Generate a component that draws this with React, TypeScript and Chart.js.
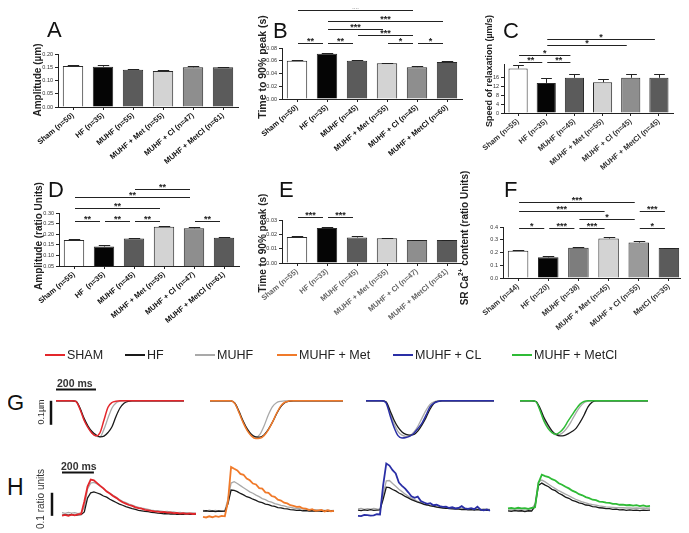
import React, { useEffect, useRef } from 'react';
import { Chart, registerables } from 'chart.js';

Chart.register(...registerables);

const FONT = '"Liberation Sans", Arial, Helvetica, sans-serif';

type Bracket = [number, number, number, string];

// ---------------- bar panel data ----------------
const barColors = ['#ffffff', '#050505', '#5b5b5b', '#d3d3d3', '#8e8e8e', '#5b5b5b'];
const barColorsF = ['#ffffff', '#050505', '#7d7d7d', '#d3d3d3', '#9a9a9a', '#5b5b5b'];

const labelsA = ['Sham (n=50)', 'HF (n=35)', 'MUHF (n=55)', 'MUHF + Met (n=55)', 'MUHF + Cl (n=47)', 'MUHF + MetCl (n=61)'];
const valuesA = [0.155, 0.152, 0.141, 0.136, 0.150, 0.150];
const errorsA = [0.003, 0.005, 0.003, 0.004, 0.005, 0.002];
const bracketsA: Bracket[] = [];

const labelsB = ['Sham (n=50)', 'HF (n=35)', 'MUHF (n=45)', 'MUHF + Met (n=55)', 'MUHF + Cl (n=45)', 'MUHF + MetCl (n=60)'];
const valuesB = [0.060, 0.071, 0.060, 0.056, 0.050, 0.058];
const errorsB = [0.0015, 0.001, 0.0015, 0.001, 0.001, 0.001];
const bracketsB: Bracket[] = [
  [0, 1, 0.088, '**'], [1, 2, 0.088, '**'], [3, 4, 0.088, '*'], [4, 5, 0.088, '*'],
  [2, 4, 0.100, '***'], [1, 3, 0.110, '***'], [1, 5, 0.122, '***'], [0, 4, 0.140, '**'],
];

const labelsC = ['Sham (n=55)', 'HF (n=35)', 'MUHF (n=45)', 'MUHF + Met (n=55)', 'MUHF + Cl (n=45)', 'MUHF + MetCl (n=45)'];
const valuesC = [20.0, 13.5, 15.8, 13.8, 15.8, 15.8];
const errorsC = [1.5, 2.2, 1.8, 1.5, 1.8, 1.8];
const bracketsC: Bracket[] = [
  [0, 1, 23, '**'], [1, 2, 23, '**'], [0, 2, 26.2, '*'], [1, 4, 30.7, '*'], [1, 5, 33.3, '*'],
];

const labelsD = ['Sham (n=55)', 'HF  (n=35)', 'MUHF (n=45)', 'MUHF + Met (n=55)', 'MUHF + Cl (n=47)', 'MUHF + MetCl (n=61)'];
const valuesD = [0.173, 0.142, 0.180, 0.235, 0.228, 0.183];
const errorsD = [0.004, 0.006, 0.004, 0.006, 0.008, 0.004];
const bracketsD: Bracket[] = [
  [0, 1, 0.262, '**'], [1, 2, 0.262, '**'], [2, 3, 0.262, '**'], [4, 5, 0.262, '**'],
  [0, 3, 0.324, '**'], [0, 4, 0.376, '**'], [2, 4, 0.413, '**'],
];

const labelsE = ['Sham (n=55)', 'HF (n=33)', 'MUHF (n=45)', 'MUHF + Met (n=55)', 'MUHF + Cl (n=47)', 'MUHF + MetCl (n=61)'];
const valuesE = [0.0182, 0.0245, 0.0178, 0.0173, 0.0160, 0.0160];
const errorsE = [0.0003, 0.0008, 0.0012, 0.0003, 0.0003, 0.0002];
const bracketsE: Bracket[] = [[0, 1, 0.0321, '***'], [1, 2, 0.0321, '***']];

const labelsF = ['Sham (n=44)', 'HF (n=20)', 'MUHF (n=38)', 'MUHF + Met (n=45)', 'MUHF + Cl (n=55)', 'MetCl (n=35)'];
const valuesF = [0.213, 0.162, 0.238, 0.310, 0.278, 0.235];
const errorsF = [0.008, 0.008, 0.005, 0.012, 0.010, 0.004];
const bracketsF: Bracket[] = [
  [0, 1, 0.392, '*'], [1, 2, 0.392, '***'], [2, 3, 0.392, '***'], [4, 5, 0.392, '*'],
  [2, 4, 0.463, '*'], [0, 3, 0.525, '***'], [4, 5, 0.525, '***'], [0, 4, 0.596, '***'],
];

// ---------------- trace data ----------------
const tG = [0, 20, 40, 60, 80, 100, 120, 140, 160, 180, 200, 220, 240, 260, 280, 300, 320, 340, 360, 380, 400, 420, 440, 460, 480, 500, 520, 540, 560, 580, 600, 620, 640];

const g1Sham = [0, 0, 0, 0, 0, -0.003, -0.035, -0.08, -0.112, -0.135, -0.146, -0.133, -0.08, -0.027, -0.007, -0.002, 0, 0, 0, 0, 0, 0, 0, 0, 0, 0, 0, 0, 0, 0, 0, 0, 0];
const g1Muhf = [0, 0, 0, 0, 0, -0.003, -0.033, -0.078, -0.11, -0.134, -0.147, -0.15, -0.118, -0.072, -0.03, -0.009, -0.002, 0, 0, 0, 0, 0, 0, 0, 0, 0, 0, 0, 0, 0, 0, 0, 0];
const g1Hf = [0, 0, 0, 0, 0, -0.002, -0.03, -0.072, -0.105, -0.128, -0.142, -0.15, -0.147, -0.132, -0.108, -0.065, -0.03, -0.01, -0.002, 0, 0, 0, 0, 0, 0, 0, 0, 0, 0, 0, 0, 0, 0];

const g2Met = [0, 0, 0, 0, 0, 0, -0.012, -0.05, -0.092, -0.125, -0.147, -0.157, -0.156, -0.145, -0.122, -0.09, -0.053, -0.022, -0.006, -0.001, 0, 0, 0, 0, 0, 0, 0, 0, 0, 0, 0, 0, 0];
const g2Muhf = [0, 0, 0, 0, 0, 0, -0.012, -0.05, -0.09, -0.123, -0.145, -0.152, -0.14, -0.105, -0.06, -0.025, -0.008, -0.002, 0, 0, 0, 0, 0, 0, 0, 0, 0, 0, 0, 0, 0, 0, 0];
const g2Hf = [0, 0, 0, 0, 0, 0, -0.01, -0.045, -0.085, -0.118, -0.14, -0.15, -0.151, -0.142, -0.12, -0.09, -0.055, -0.025, -0.008, -0.002, 0, 0, 0, 0, 0, 0, 0, 0, 0, 0, 0, 0, 0];

const g3Cl = [0, 0, 0, 0, 0, -0.008, -0.06, -0.11, -0.145, -0.155, -0.153, -0.147, -0.135, -0.115, -0.093, -0.06, -0.025, -0.01, -0.003, 0, 0, 0, 0, 0, 0, 0, 0, 0, 0, 0, 0, 0, 0];
const g3Muhf = [0, 0, 0, 0, 0, -0.006, -0.05, -0.095, -0.128, -0.143, -0.148, -0.145, -0.13, -0.105, -0.072, -0.04, -0.015, -0.004, 0, 0, 0, 0, 0, 0, 0, 0, 0, 0, 0, 0, 0, 0, 0];
const g3Hf = [0, 0, 0, 0, 0, -0.004, -0.04, -0.08, -0.11, -0.13, -0.14, -0.143, -0.14, -0.125, -0.1, -0.07, -0.035, -0.01, -0.002, 0, 0, 0, 0, 0, 0, 0, 0, 0, 0, 0, 0, 0, 0];

const g4MetCl = [0, 0, 0, 0, -0.004, -0.04, -0.085, -0.115, -0.133, -0.139, -0.13, -0.112, -0.085, -0.06, -0.035, -0.014, -0.003, 0, 0, 0, 0, 0, 0, 0, 0, 0, 0, 0, 0, 0, 0, 0, 0];
const g4Muhf = [0, 0, 0, 0, -0.004, -0.036, -0.08, -0.11, -0.132, -0.142, -0.14, -0.128, -0.108, -0.08, -0.05, -0.025, -0.008, -0.002, 0, 0, 0, 0, 0, 0, 0, 0, 0, 0, 0, 0, 0, 0, 0];
const g4Hf = [0, 0, 0, 0, -0.003, -0.03, -0.07, -0.1, -0.125, -0.14, -0.146, -0.145, -0.138, -0.128, -0.115, -0.09, -0.06, -0.025, -0.006, 0, 0, 0, 0, 0, 0, 0, 0, 0, 0, 0, 0, 0, 0];

const tH = [0, 20, 40, 60, 80, 100, 120, 140, 160, 180, 200, 220, 240, 260, 280, 300, 320, 340, 360, 380, 400, 420, 440, 460, 480, 500, 520, 540, 560, 580, 600, 620, 640, 660, 680, 700, 720, 740, 760, 780, 800, 820, 840];

const h1Sham = [-0.011, -0.008, -0.012, -0.007, -0.010, -0.006, -0.004, 0.050, 0.115, 0.145, 0.142, 0.130, 0.118, 0.107, 0.093, 0.085, 0.074, 0.066, 0.056, 0.047, 0.041, 0.035, 0.031, 0.025, 0.021, 0.019, 0.014, 0.012, 0.010, 0.007, 0.006, 0.004, 0.005, 0.002, 0.003, 0.000, 0.001, -0.002, 0.000, -0.003, -0.001, -0.004, -0.003];
const h1Muhf = [0.002, -0.001, 0.003, 0.000, 0.002, -0.002, 0.001, 0.025, 0.105, 0.130, 0.133, 0.126, 0.116, 0.105, 0.095, 0.086, 0.077, 0.068, 0.059, 0.051, 0.045, 0.039, 0.034, 0.029, 0.025, 0.021, 0.019, 0.016, 0.013, 0.011, 0.010, 0.008, 0.006, 0.007, 0.004, 0.005, 0.002, 0.003, 0.001, 0.002, 0.000, 0.001, -0.001];
const h1Hf = [-0.010, -0.007, -0.009, -0.006, -0.010, -0.008, -0.007, 0.005, 0.065, 0.088, 0.092, 0.087, 0.082, 0.074, 0.069, 0.060, 0.053, 0.046, 0.039, 0.034, 0.028, 0.024, 0.019, 0.016, 0.012, 0.010, 0.007, 0.006, 0.003, 0.002, 0.000, -0.001, -0.003, -0.002, -0.004, -0.003, -0.005, -0.004, -0.006, -0.003, -0.005, -0.006, -0.004];

const h2Met = [-0.016, -0.019, -0.014, -0.018, -0.013, -0.016, -0.012, -0.014, 0.050, 0.200, 0.192, 0.185, 0.170, 0.166, 0.150, 0.142, 0.128, 0.124, 0.108, 0.106, 0.090, 0.088, 0.074, 0.070, 0.058, 0.054, 0.045, 0.042, 0.034, 0.031, 0.027, 0.028, 0.020, 0.019, 0.013, 0.017, 0.010, 0.012, 0.014, 0.007, 0.012, 0.008, 0.010];
const h2Muhf = [0.012, 0.009, 0.013, 0.010, 0.012, 0.008, 0.011, 0.010, 0.060, 0.130, 0.136, 0.128, 0.119, 0.110, 0.101, 0.092, 0.086, 0.078, 0.071, 0.063, 0.058, 0.051, 0.047, 0.041, 0.038, 0.033, 0.031, 0.027, 0.025, 0.022, 0.021, 0.019, 0.018, 0.016, 0.016, 0.014, 0.015, 0.013, 0.013, 0.012, 0.013, 0.011, 0.012];
const h2Hf = [0.008, 0.010, 0.007, 0.009, 0.006, 0.009, 0.007, 0.008, 0.040, 0.100, 0.098, 0.093, 0.085, 0.079, 0.071, 0.067, 0.060, 0.055, 0.048, 0.045, 0.039, 0.037, 0.031, 0.029, 0.024, 0.023, 0.019, 0.018, 0.015, 0.014, 0.012, 0.013, 0.010, 0.011, 0.009, 0.010, 0.008, 0.010, 0.007, 0.009, 0.008, 0.010, 0.008];

const h3Cl = [-0.012, -0.013, -0.008, -0.009, -0.011, -0.010, -0.005, -0.006, 0.120, 0.215, 0.206, 0.186, 0.172, 0.132, 0.118, 0.106, 0.090, 0.073, 0.066, 0.071, 0.052, 0.046, 0.040, 0.043, 0.034, 0.036, 0.030, 0.027, 0.028, 0.022, 0.025, 0.020, 0.022, 0.030, 0.020, 0.018, 0.021, 0.017, 0.028, 0.015, 0.012, 0.016, 0.010];
const h3Muhf = [0.018, 0.020, 0.016, 0.019, 0.017, 0.020, 0.018, 0.017, 0.080, 0.140, 0.141, 0.128, 0.116, 0.103, 0.093, 0.082, 0.073, 0.064, 0.058, 0.050, 0.046, 0.040, 0.037, 0.033, 0.031, 0.028, 0.027, 0.025, 0.024, 0.022, 0.022, 0.020, 0.021, 0.019, 0.020, 0.018, 0.019, 0.017, 0.018, 0.016, 0.018, 0.017, 0.016];
const h3Hf = [0.013, 0.011, 0.014, 0.012, 0.015, 0.012, 0.013, 0.014, 0.060, 0.112, 0.110, 0.102, 0.096, 0.087, 0.081, 0.072, 0.066, 0.058, 0.053, 0.047, 0.043, 0.038, 0.035, 0.031, 0.029, 0.026, 0.024, 0.022, 0.021, 0.019, 0.018, 0.017, 0.017, 0.015, 0.016, 0.014, 0.015, 0.013, 0.015, 0.013, 0.014, 0.012, 0.013];

const h4MetCl = [0.020, 0.022, 0.019, 0.023, 0.020, 0.021, 0.018, 0.022, 0.025, 0.130, 0.166, 0.160, 0.156, 0.147, 0.141, 0.129, 0.123, 0.114, 0.107, 0.097, 0.091, 0.082, 0.077, 0.069, 0.065, 0.058, 0.056, 0.050, 0.049, 0.045, 0.044, 0.040, 0.040, 0.036, 0.037, 0.034, 0.035, 0.032, 0.034, 0.030, 0.033, 0.029, 0.031];
const h4Muhf = [0.017, 0.019, 0.016, 0.018, 0.017, 0.019, 0.016, 0.018, 0.040, 0.135, 0.143, 0.135, 0.125, 0.115, 0.106, 0.097, 0.090, 0.082, 0.075, 0.067, 0.060, 0.054, 0.048, 0.044, 0.040, 0.037, 0.034, 0.031, 0.029, 0.027, 0.026, 0.025, 0.024, 0.023, 0.023, 0.022, 0.022, 0.021, 0.022, 0.021, 0.022, 0.021, 0.022];
const h4Hf = [0.010, 0.008, 0.011, 0.009, 0.010, 0.007, 0.010, 0.009, 0.030, 0.120, 0.130, 0.121, 0.114, 0.103, 0.097, 0.086, 0.079, 0.069, 0.064, 0.055, 0.051, 0.044, 0.041, 0.035, 0.033, 0.028, 0.027, 0.023, 0.022, 0.019, 0.019, 0.016, 0.017, 0.014, 0.015, 0.012, 0.014, 0.012, 0.013, 0.011, 0.013, 0.012, 0.013];

const legendNames = ['SHAM', 'HF', 'MUHF', 'MUHF + Met', 'MUHF + CL', 'MUHF + MetCl'];

// ---------------- styles / layout ----------------
const C_SHAM = '#e3262b';
const C_HF = '#1a1a1a';
const C_MUHF = '#a9a9a9';
const C_MET = '#f07a2a';
const C_CL = '#2a2fa6';
const C_METCL = '#2fbb36';
const legendColors = [C_SHAM, C_HF, C_MUHF, C_MET, C_CL, C_METCL];
const legendX = [45, 125, 195, 277, 393, 512];

type Box = { left: number; top: number; width: number; height: number };
type Area = { left: number; top: number; right: number; bottom: number };

const barPanels = [
  { key: 'A', labels: labelsA, values: valuesA, errors: errorsA, brackets: bracketsA, min: 0, max: 0.2, step: 0.05, tickMax: 0.2, dec: 2, colors: barColors, labelColor: '#111',
    box: { left: 16, top: 0, width: 232, height: 190 }, area: { left: 58, top: 54, right: 238, bottom: 107 } },
  { key: 'B', labels: labelsB, values: valuesB, errors: errorsB, brackets: bracketsB, min: 0, max: 0.08, step: 0.02, tickMax: 0.08, dec: 2, colors: barColors, labelColor: '#111',
    box: { left: 240, top: 0, width: 226, height: 190 }, area: { left: 282, top: 48, right: 462, bottom: 99 } },
  { key: 'C', labels: labelsC, values: valuesC, errors: errorsC, brackets: bracketsC, min: 0, max: 22, step: 4, tickMax: 20, dec: 0, colors: barColors, labelColor: '#333',
    box: { left: 468, top: 0, width: 221, height: 190 }, area: { left: 504, top: 64, right: 673, bottom: 113 } },
  { key: 'D', labels: labelsD, values: valuesD, errors: errorsD, brackets: bracketsD, min: 0.05, max: 0.3, step: 0.05, tickMax: 0.3, dec: 2, colors: barColors, labelColor: '#111',
    box: { left: 16, top: 165, width: 232, height: 170 }, area: { left: 59, top: 213, right: 239, bottom: 266 } },
  { key: 'E', labels: labelsE, values: valuesE, errors: errorsE, brackets: bracketsE, min: 0, max: 0.03, step: 0.01, tickMax: 0.03, dec: 2, colors: barColors, labelColor: '#666',
    box: { left: 240, top: 165, width: 226, height: 170 }, area: { left: 282, top: 220, right: 462, bottom: 263 } },
  { key: 'F', labels: labelsF, values: valuesF, errors: errorsF, brackets: bracketsF, min: 0, max: 0.4, step: 0.1, tickMax: 0.4, dec: 1, colors: barColorsF, labelColor: '#333',
    box: { left: 468, top: 165, width: 221, height: 170 }, area: { left: 503, top: 227, right: 684, bottom: 278 } },
];

const G_Y = { min: -0.18, max: 0.02 };
const H_Y = { min: -0.03, max: 0.23 };

const tracePanels = [
  { key: 'G1', times: tG, tMax: 640, yr: G_Y, smooth: true, lw: 1.5, area: { left: 56, top: 396, width: 128, height: 48 }, pad: { l: 20, t: 16, r: 2, b: 4 },
    series: [{ v: g1Sham, c: C_SHAM }, { v: g1Hf, c: C_HF }, { v: g1Muhf, c: C_MUHF }],
    bar: { t0: 0, tLen: 200, hOff: 6.5, v0: 0, vLen: -0.1, vOff: 5 } },
  { key: 'G2', times: tG, tMax: 640, yr: G_Y, smooth: true, lw: 1.5, area: { left: 210, top: 396, width: 133, height: 48 }, pad: { l: 2, t: 2, r: 2, b: 4 },
    series: [{ v: g2Met, c: C_MET }, { v: g2Hf, c: C_HF }, { v: g2Muhf, c: C_MUHF }] },
  { key: 'G3', times: tG, tMax: 640, yr: G_Y, smooth: true, lw: 1.5, area: { left: 366, top: 396, width: 128, height: 48 }, pad: { l: 2, t: 2, r: 2, b: 4 },
    series: [{ v: g3Cl, c: C_CL }, { v: g3Hf, c: C_HF }, { v: g3Muhf, c: C_MUHF }] },
  { key: 'G4', times: tG, tMax: 640, yr: G_Y, smooth: true, lw: 1.5, area: { left: 520, top: 396, width: 128, height: 48 }, pad: { l: 2, t: 2, r: 2, b: 4 },
    series: [{ v: g4MetCl, c: C_METCL }, { v: g4Hf, c: C_HF }, { v: g4Muhf, c: C_MUHF }] },
  { key: 'H1', times: tH, tMax: 840, yr: H_Y, smooth: false, lw: 1.8, area: { left: 62, top: 460, width: 134, height: 60 }, pad: { l: 26, t: 4, r: 2, b: 4 },
    series: [{ v: h1Sham, c: C_SHAM }, { v: h1Hf, c: C_HF }, { v: h1Muhf, c: C_MUHF }],
    bar: { t0: 0, tLen: 200, hOff: -12.5, v0: -0.012, vLen: 0.1, vOff: 10 } },
  { key: 'H2', times: tH, tMax: 840, yr: H_Y, smooth: false, lw: 1.8, area: { left: 203, top: 460, width: 131, height: 60 }, pad: { l: 2, t: 4, r: 2, b: 4 },
    series: [{ v: h2Met, c: C_MET }, { v: h2Hf, c: C_HF }, { v: h2Muhf, c: C_MUHF }] },
  { key: 'H3', times: tH, tMax: 840, yr: H_Y, smooth: false, lw: 1.8, area: { left: 358, top: 460, width: 132, height: 60 }, pad: { l: 2, t: 4, r: 2, b: 4 },
    series: [{ v: h3Cl, c: C_CL }, { v: h3Hf, c: C_HF }, { v: h3Muhf, c: C_MUHF }] },
  { key: 'H4', times: tH, tMax: 840, yr: H_Y, smooth: false, lw: 1.8, area: { left: 508, top: 460, width: 142, height: 60 }, pad: { l: 2, t: 4, r: 2, b: 4 },
    series: [{ v: h4MetCl, c: C_METCL }, { v: h4Hf, c: C_HF }, { v: h4Muhf, c: C_MUHF }] },
];

// ---------------- plugins ----------------
const errorBarPlugin = (errs: number[]) => ({
  id: 'errbars',
  afterDatasetsDraw(chart: any) {
    const meta = chart.getDatasetMeta(0);
    const ys = chart.scales.y;
    const vals = chart.data.datasets[0].data as number[];
    const ctx = chart.ctx;
    ctx.save();
    ctx.strokeStyle = '#222';
    ctx.lineWidth = 1;
    meta.data.forEach((bar: any, i: number) => {
      const x = Math.round(bar.x) + 0.5;
      const yt = Math.round(ys.getPixelForValue(vals[i] + errs[i])) + 0.5;
      const half = bar.width * 0.28;
      ctx.beginPath();
      ctx.moveTo(x, bar.y);
      ctx.lineTo(x, yt);
      ctx.moveTo(x - half, yt);
      ctx.lineTo(x + half, yt);
      ctx.stroke();
    });
    ctx.restore();
  },
});

const bracketPlugin = (brs: Bracket[]) => ({
  id: 'brackets',
  afterDraw(chart: any) {
    const xs = chart.scales.x;
    const ys = chart.scales.y;
    const ctx = chart.ctx;
    ctx.save();
    ctx.strokeStyle = '#222';
    ctx.fillStyle = '#222';
    ctx.lineWidth = 1;
    ctx.font = `bold 9px ${FONT}`;
    ctx.textAlign = 'center';
    ctx.textBaseline = 'bottom';
    brs.forEach(([i, j, v, lab]) => {
      const x1 = xs.getPixelForValue(i) + 1;
      const x2 = xs.getPixelForValue(j) - 4;
      const y = Math.round(ys.getPixelForValue(v)) + 0.5;
      ctx.beginPath();
      ctx.moveTo(x1, y);
      ctx.lineTo(x2, y);
      ctx.stroke();
      ctx.fillText(lab, (x1 + x2) / 2, y + 3);
    });
    ctx.restore();
  },
});

const scaleBarPlugin = (sb: any) => ({
  id: 'scalebar',
  afterDraw(chart: any) {
    const { ctx, chartArea, scales } = chart;
    ctx.save();
    ctx.strokeStyle = '#111';
    ctx.lineWidth = 2;
    const hy = chartArea.top - sb.hOff;
    ctx.beginPath();
    ctx.moveTo(scales.x.getPixelForValue(sb.t0), hy);
    ctx.lineTo(scales.x.getPixelForValue(sb.t0 + sb.tLen), hy);
    ctx.stroke();
    ctx.lineWidth = 2.5;
    const vx = chartArea.left - sb.vOff;
    ctx.beginPath();
    ctx.moveTo(vx, scales.y.getPixelForValue(sb.v0));
    ctx.lineTo(vx, scales.y.getPixelForValue(sb.v0 + sb.vLen));
    ctx.stroke();
    ctx.restore();
  },
});

// ---------------- components ----------------
function BarPanel({ p }: { p: any }) {
  const ref = useRef<HTMLCanvasElement>(null);
  useEffect(() => {
    const box: Box = p.box;
    const area: Area = p.area;
    const chart = new Chart(ref.current as HTMLCanvasElement, {
      type: 'bar',
      data: {
        labels: p.labels,
        datasets: [{
          data: p.values,
          backgroundColor: p.colors,
          borderColor: '#2a2a2a',
          borderWidth: 1,
          barPercentage: 0.68,
          categoryPercentage: 1,
        }],
      },
      options: {
        responsive: false,
        animation: false,
        events: [],
        layout: { padding: { left: 0, top: area.top - box.top, right: box.left + box.width - area.right, bottom: 0 } },
        plugins: { legend: { display: false }, tooltip: { enabled: false }, title: { display: false } },
        scales: {
          x: {
            grid: { display: true, drawOnChartArea: false, offset: false, tickLength: 3, color: '#222' },
            border: { color: '#222' },
            ticks: { autoSkip: false, minRotation: 40, maxRotation: 40, padding: 1, color: p.labelColor, font: { size: 7.5, weight: 'bold', family: FONT } },
            afterFit: (s: any) => { s.height = box.top + box.height - area.bottom; s.paddingLeft = 0; s.paddingRight = 0; },
          },
          y: {
            min: p.min,
            max: p.max,
            ticks: { stepSize: p.step, padding: 2, color: '#333', font: { size: 5.5, family: FONT }, callback: (v: any) => Number(v).toFixed(p.dec) },
            grid: { drawOnChartArea: false, tickLength: 3, color: '#222' },
            border: { color: '#222' },
            afterBuildTicks: (s: any) => { s.ticks = s.ticks.filter((t: any) => t.value <= p.tickMax + 1e-9); },
            afterFit: (s: any) => { s.width = area.left - box.left; s.paddingTop = 0; s.paddingBottom = 0; },
          },
        },
      } as any,
      plugins: [errorBarPlugin(p.errors), bracketPlugin(p.brackets)],
    });
    return () => chart.destroy();
  }, [p]);
  return (
    <canvas ref={ref} width={p.box.width} height={p.box.height}
      style={{ position: 'absolute', left: p.box.left, top: p.box.top, width: p.box.width, height: p.box.height }} />
  );
}

function TracePanel({ p }: { p: any }) {
  const ref = useRef<HTMLCanvasElement>(null);
  const cw = p.area.width + p.pad.l + p.pad.r;
  const ch = p.area.height + p.pad.t + p.pad.b;
  useEffect(() => {
    const chart = new Chart(ref.current as HTMLCanvasElement, {
      type: 'line',
      data: {
        datasets: p.series.map((s: any, k: number) => ({
          data: p.times.map((t: number, i: number) => ({ x: t, y: s.v[i] })),
          borderColor: s.c,
          borderWidth: k === 0 ? p.lw : 1.3,
          pointRadius: 0,
          tension: 0,
          cubicInterpolationMode: p.smooth ? 'monotone' : 'default',
          fill: false,
          clip: false,
        })),
      },
      options: {
        responsive: false,
        animation: false,
        events: [],
        layout: { padding: { left: p.pad.l, top: p.pad.t, right: p.pad.r, bottom: p.pad.b } },
        plugins: { legend: { display: false }, tooltip: { enabled: false } },
        scales: {
          x: { type: 'linear', display: false, min: 0, max: p.tMax },
          y: { display: false, min: p.yr.min, max: p.yr.max },
        },
      } as any,
      plugins: p.bar ? [scaleBarPlugin(p.bar)] : [],
    });
    return () => chart.destroy();
  }, [p]);
  return (
    <canvas ref={ref} width={cw} height={ch}
      style={{ position: 'absolute', left: p.area.left - p.pad.l, top: p.area.top - p.pad.t, width: cw, height: ch }} />
  );
}

function Txt({ x, capTop, size, weight = 'normal', color = '#111', children }: any) {
  return (
    <div style={{ position: 'absolute', left: x, top: capTop - 0.13 * size, fontSize: size, lineHeight: 1, fontWeight: weight, color, whiteSpace: 'nowrap', fontFamily: FONT }}>
      {children}
    </div>
  );
}

function RotTxt({ cx, cy, size, weight = 'bold', color = '#222', children }: any) {
  return (
    <div style={{ position: 'absolute', left: cx, top: cy, transform: 'translate(-50%, -50%) rotate(-90deg)', fontSize: size, lineHeight: 1, fontWeight: weight, color, whiteSpace: 'nowrap', fontFamily: FONT }}>
      {children}
    </div>
  );
}

export default function App() {
  return (
    <div style={{ position: 'relative', width: 689, height: 533, marginLeft: -8, marginTop: -8, background: '#fff', overflow: 'hidden', fontFamily: FONT }}>
      {barPanels.map((p) => <BarPanel key={p.key} p={p} />)}
      {tracePanels.map((p) => <TracePanel key={p.key} p={p} />)}

      {/* panel letters */}
      <Txt x={47} capTop={22} size={22}>A</Txt>
      <Txt x={273} capTop={23} size={22}>B</Txt>
      <Txt x={503} capTop={23} size={22}>C</Txt>
      <Txt x={48} capTop={182} size={22}>D</Txt>
      <Txt x={279} capTop={182} size={22}>E</Txt>
      <Txt x={504} capTop={182} size={22}>F</Txt>
      <Txt x={7} capTop={395} size={22}>G</Txt>
      <Txt x={7} capTop={479} size={23}>H</Txt>

      {/* y-axis titles */}
      <RotTxt cx={38} cy={80} size={10}>Amplitude (µm)</RotTxt>
      <RotTxt cx={262} cy={67} size={10.5}>Time to 90% peak (s)</RotTxt>
      <RotTxt cx={489} cy={71} size={9}>Speed of relaxation (µm/s)</RotTxt>
      <RotTxt cx={39} cy={236} size={10}>Amplitude (ratio Units)</RotTxt>
      <RotTxt cx={263} cy={243} size={10}>Time to 90% peak (s)</RotTxt>
      <RotTxt cx={464} cy={238} size={10}>SR Ca<sup style={{ fontSize: '0.65em' }}>2+</sup> content (ratio Units)</RotTxt>

      {/* legend */}
      {legendNames.map((n, i) => (
        <div key={n} style={{ position: 'absolute', left: legendX[i], top: 347, height: 16, display: 'flex', alignItems: 'center', fontSize: 12.5, color: '#222', whiteSpace: 'nowrap', fontFamily: FONT }}>
          <span style={{ display: 'inline-block', width: 20, height: 2.5, background: legendColors[i], marginRight: 2 }} />
          <span>{n}</span>
        </div>
      ))}

      {/* scale bar labels */}
      <Txt x={57} capTop={379} size={10.5} weight="bold" color="#333">200 ms</Txt>
      <RotTxt cx={41} cy={412} size={9} weight="normal" color="#333">0.1µm</RotTxt>
      <Txt x={61} capTop={462} size={10.5} weight="bold" color="#333">200 ms</Txt>
      <RotTxt cx={41} cy={499} size={10} weight="normal" color="#333">0.1 ratio units</RotTxt>
    </div>
  );
}
